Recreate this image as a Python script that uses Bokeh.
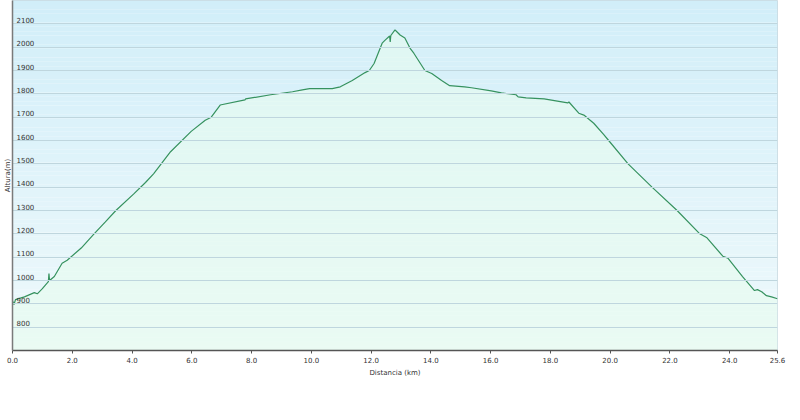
import numpy as np
from bokeh.plotting import figure
from bokeh.models import FixedTicker, Range1d, NumeralTickFormatter, ColumnDataSource
from bokeh.core.properties import value
from bokeh.embed import file_html
from bokeh.resources import INLINE

# ---- data ----
distance_km = [0.0, 0.05, 0.1, 0.4, 0.73, 0.83, 1.0, 1.2, 1.22, 1.24, 1.4, 1.66, 1.83,
               2.3, 2.73, 3.1, 3.46, 4.05, 4.45, 4.72, 5.29, 5.98, 6.45, 6.65, 6.95,
               7.78, 7.8, 8.64, 9.37, 9.7, 9.94, 10.7, 10.97, 11.37, 11.8, 11.94, 12.1,
               12.37, 12.47, 12.62, 12.64, 12.66, 12.8, 12.87, 12.97, 13.13, 13.3, 13.43,
               13.8, 14.03, 14.36, 14.63, 15.13, 15.36, 16.02, 16.36, 16.85, 16.92, 17.19,
               17.79, 18.58, 18.62, 18.95, 19.12, 19.45, 19.78, 19.95, 20.6, 21.4, 22.24,
               23.0, 23.24, 23.77, 23.94, 24.43, 24.83, 24.93, 25.07, 25.23, 25.4, 25.6]
altitude_m = [913, 897, 918, 930, 948, 943, 965, 995, 1030, 1000, 1017, 1074, 1087,
              1139, 1200, 1250, 1300, 1370, 1420, 1457, 1552, 1639, 1687, 1700, 1752,
              1774, 1778, 1796, 1809, 1817, 1822, 1822, 1830, 1857, 1891, 1900, 1930,
              2017, 2030, 2048, 2022, 2050, 2074, 2065, 2052, 2039, 1996, 1974,
              1900, 1887, 1857, 1835, 1830, 1826, 1813, 1804, 1796, 1787, 1783,
              1778, 1761, 1765, 1717, 1709, 1674, 1626, 1600, 1500, 1400, 1300,
              1200, 1183, 1104, 1096, 1017, 957, 961, 952, 935, 930, 922]
x_ticks = [0, 2, 4, 6, 8, 10, 12, 14, 16, 18, 20, 22, 24, 25.6]
y_ticks = [800, 900, 1000, 1100, 1200, 1300, 1400, 1500, 1600, 1700, 1800, 1900, 2000, 2100]
y_tick_labels = [str(v) for v in y_ticks]
x_title = "Distancia (km)"
y_title = "Altura(m)"

X0, X1 = 0, 25.6
Y0, Y1 = 700, 2200
FONT = "DejaVu Sans"

p = figure(width=787, height=388, output_backend="svg", toolbar_location=None,
           x_range=Range1d(X0, X1), y_range=Range1d(Y0, Y1),
           min_border_left=0, min_border_right=10, min_border_top=0, min_border_bottom=38)
p.background_fill_color = "#ffffff"
p.border_fill_color = "#ffffff"
p.outline_line_color = "#c9d9df"

# vertical gradient background (light blue -> very pale)
n = 80
edges = np.linspace(Y0, Y1, n + 1)
top_c = np.array([0xd1, 0xee, 0xf9])
bot_c = np.array([0xef, 0xf9, 0xfb])
cols = []
for i in range(n):
    t = (edges[i] - Y0) / (Y1 - Y0)
    c = bot_c + (top_c - bot_c) * t
    cols.append("#%02x%02x%02x" % tuple(int(round(v)) for v in c))
p.quad(left=X0, right=X1, bottom=edges[:-1], top=edges[1:], fill_color=cols,
       line_color=None, level="image")

src = ColumnDataSource(dict(x=distance_km, y=altitude_m))
p.varea(x="x", y1=Y0, y2="y", source=src, fill_color="#e6fbee", fill_alpha=0.6,
        level="underlay")
p.line(x="x", y="y", source=src, line_color="#36925f", line_width=1.2)

# grid
p.xgrid.visible = False
p.ygrid.ticker = FixedTicker(ticks=y_ticks)
p.ygrid.grid_line_color = "#bfd6de"
p.ygrid.grid_line_width = 1
p.ygrid.level = "glyph"

# y labels inside the plot
p.text(x=[X0] * len(y_ticks), y=y_ticks, text=y_tick_labels, x_offset=4, y_offset=-1,
       text_baseline="bottom", text_align="left", text_font=value(FONT),
       text_font_size="7px", text_color="#333333")

# x axis
xa = p.xaxis[0]
xa.ticker = FixedTicker(ticks=x_ticks)
xa.formatter = NumeralTickFormatter(format="0.0")
xa.axis_line_color = "#555555"
xa.axis_line_width = 1.5
xa.major_tick_line_color = "#555555"
xa.major_tick_out = 3
xa.major_tick_in = 0
xa.minor_tick_line_color = None
xa.major_label_text_font = FONT
xa.major_label_text_font_size = "7px"
xa.major_label_text_color = "#333333"
xa.major_label_standoff = 3
xa.axis_label = x_title
xa.axis_label_text_font = FONT
xa.axis_label_text_font_size = "7px"
xa.axis_label_text_font_style = "normal"
xa.axis_label_text_color = "#333333"
xa.axis_label_standoff = 3

# y axis: only line + title
ya = p.yaxis[0]
ya.ticker = FixedTicker(ticks=[])
ya.axis_line_color = "#7a7a7a"
ya.axis_line_width = 1.5
ya.major_tick_line_color = None
ya.minor_tick_line_color = None
ya.major_label_text_font_size = "0px"
ya.major_label_standoff = 0
ya.axis_label = y_title
ya.axis_label_text_font = FONT
ya.axis_label_text_font_size = "7px"
ya.axis_label_text_font_style = "normal"
ya.axis_label_text_color = "#333333"
ya.axis_label_standoff = 1

open("out.html", "w").write(file_html(p, INLINE))
